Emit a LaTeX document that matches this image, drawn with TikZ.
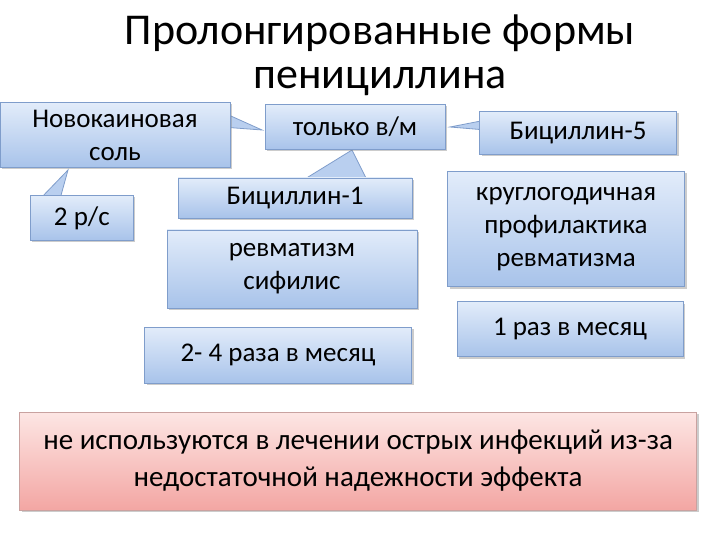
\documentclass[tikz,border=0pt]{standalone}
\usepackage{fontspec}
\setmainfont{Carlito}
\usetikzlibrary{shadows}
\definecolor{bt}{HTML}{E2ECFA}
\definecolor{bb}{HTML}{A8C3EA}
\definecolor{bd}{HTML}{7F9DCB}
\definecolor{rt}{HTML}{FDE6E4}
\definecolor{rb}{HTML}{F3A6A3}
\definecolor{rd}{HTML}{C9A2A0}
\begin{document}
\begin{tikzpicture}[x=1pt,y=-1pt,
  bx/.style={draw=bd,line width=0.8pt,top color=bt,bottom color=bb,align=center,
    font=\fontsize{27}{33}\selectfont,inner sep=0pt,
    drop shadow={shadow xshift=2pt,shadow yshift=-2pt,opacity=0.4}},
  tail/.style={draw=bd,line width=0.8pt,fill=bb!70!bt}]
\useasboundingbox (0,0) rectangle (720,540);
\node[font=\fontsize{44}{44}\selectfont,align=center] (title) at (380,55) {Пролонгированные формы\\пенициллина};
% tails
\fill[tail] (222,112) -- (262,130) -- (222,127) -- cycle;
\fill[tail] (40,199) -- (68,170) -- (60,199) -- cycle;
\fill[tail] (300,182) -- (352,150) -- (368,182) -- cycle;
\fill[tail] (486,120) -- (450,127) -- (486,130) -- cycle;
\node[bx,minimum width=230,minimum height=65] (nov) at (115,135) {Новокаиновая\\соль};
\node[bx,minimum width=180,minimum height=45] (tol) at (355,127) {только в/м};
\node[bx,minimum width=197,minimum height=43] (b5) at (578,133) {Бициллин-5};
\node[bx,minimum width=103,minimum height=45,anchor=north west] (r2) at (30,195) {2 р/с};
\node[bx,minimum width=234,minimum height=40] (b1) at (295,198) {Бициллин-1};
\node[bx,minimum width=250,minimum height=78] (rev) at (292,269) {ревматизм\\сифилис};
\node[bx,minimum width=237,minimum height=115] (kr) at (566,229) {круглогодичная\\профилактика\\ревматизма};
\node[bx,minimum width=226,minimum height=55] (raz) at (570,329) {1 раз в месяц};
\node[bx,minimum width=267,minimum height=56] (r24) at (278,355) {2- 4 раза в месяц};
\node[draw=rd,line width=0.8pt,top color=rt,bottom color=rb,align=center,
  font=\fontsize{29}{37}\selectfont,minimum width=677,minimum height=98,inner sep=0pt,
  drop shadow={shadow xshift=2pt,shadow yshift=-2pt,opacity=0.4}] (note) at (358,461)
  {не используются в лечении острых инфекций из-за\\недостаточной надежности эффекта};
\end{tikzpicture}
\end{document}
